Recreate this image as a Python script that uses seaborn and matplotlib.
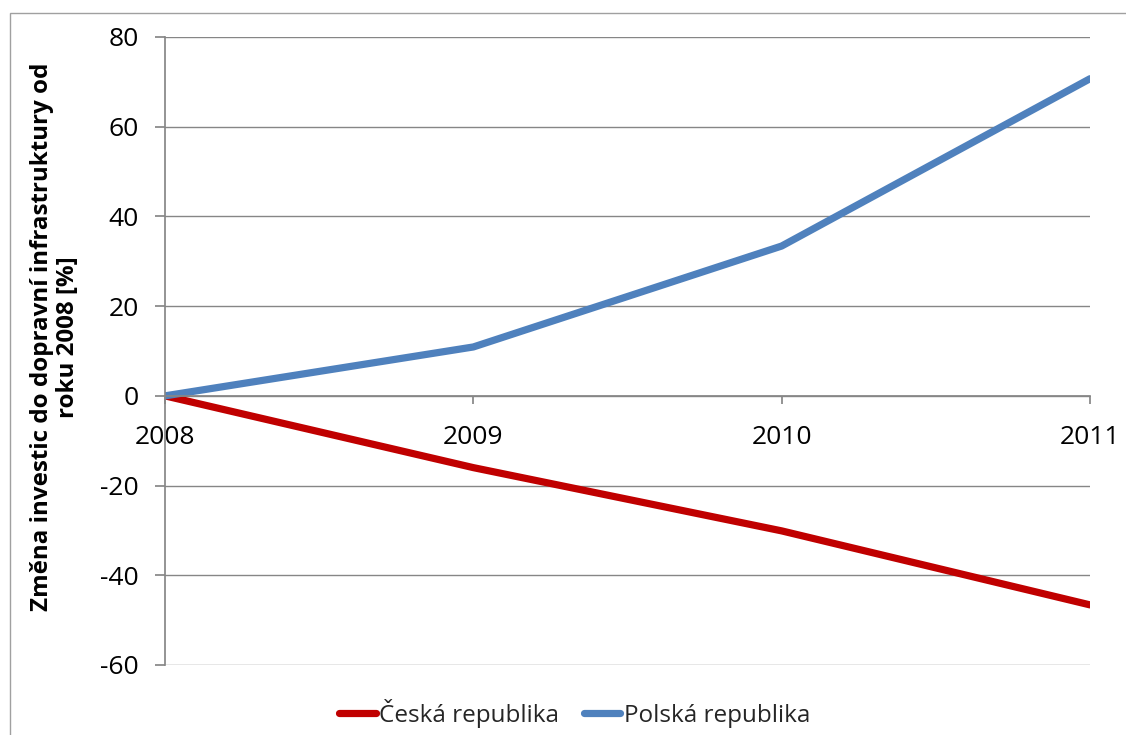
import numpy as np
import pandas as pd
import matplotlib
matplotlib.use("Agg")
import matplotlib.pyplot as plt
import seaborn as sns

years = [2008, 2009, 2010, 2011]
cz_values = [0.0, -16.0, -30.1, -46.6]
pl_values = [0.0, 10.9, 33.4, 70.7]
series_names = ["Česká republika", "Polská republika"]
colors = ["#C00000", "#4F81BD"]

df = pd.DataFrame({
    "rok": years * 2,
    "zmena": cz_values + pl_values,
    "zeme": [series_names[0]] * 4 + [series_names[1]] * 4,
})

sns.set_theme(style="white")
plt.rcParams["font.family"] = ["Open Sans", "DejaVu Sans"]
plt.rcParams["axes.unicode_minus"] = False

fig = plt.figure(figsize=(11.26, 7.35), dpi=100)
ax = fig.add_axes([165 / 1126, 1 - 665 / 735, (1090 - 165) / 1126, (665 - 37) / 735])

sns.lineplot(data=df, x="rok", y="zmena", hue="zeme", palette=colors,
             linewidth=5.2, ax=ax, legend=True)

ax.set_xlim(2008, 2011)
ax.set_ylim(-60, 80)
ax.set_yticks(np.arange(-60, 81, 20))
ax.set_xticks(years)
ax.set_xticklabels([str(y) for y in years])
ax.tick_params(axis="y", labelsize=19, labelcolor="black", length=7,
               color="#868686", direction="out", left=True, pad=12)
ax.tick_params(axis="x", labelsize=19, labelcolor="black", length=6,
               color="#868686", direction="out", bottom=True, pad=15)
ax.yaxis.grid(True, color="#868686", linewidth=1)
ax.xaxis.grid(False)
ax.set_axisbelow(True)

for side in ["top", "right"]:
    ax.spines[side].set_visible(False)
ax.spines["left"].set_color("#868686")
ax.spines["bottom"].set_position(("data", 0))
ax.spines["bottom"].set_color("#868686")

ax.set_xlabel("")
ax.set_ylabel("Změna investic do dopravní infrastruktury od\nroku 2008 [%]",
              fontsize=17.4, fontweight="bold", color="black",
              linespacing=1.1)
ax.yaxis.set_label_coords(-0.092, 0.522)

handles, labels = ax.get_legend_handles_labels()
ax.legend(handles, labels, loc="center", bbox_to_anchor=(0.443, -0.077),
          ncol=2, frameon=False, fontsize=17.5, handlelength=1.5,
          handletextpad=0.15, columnspacing=1.0)

frame = plt.Rectangle((10 / 1126, -0.01), 1.02, 1 - 13 / 735 + 0.01,
                      transform=fig.transFigure, fill=False,
                      edgecolor="#A0A0A0", linewidth=1)
fig.patches.append(frame)

fig.savefig("out.png", dpi=100)
